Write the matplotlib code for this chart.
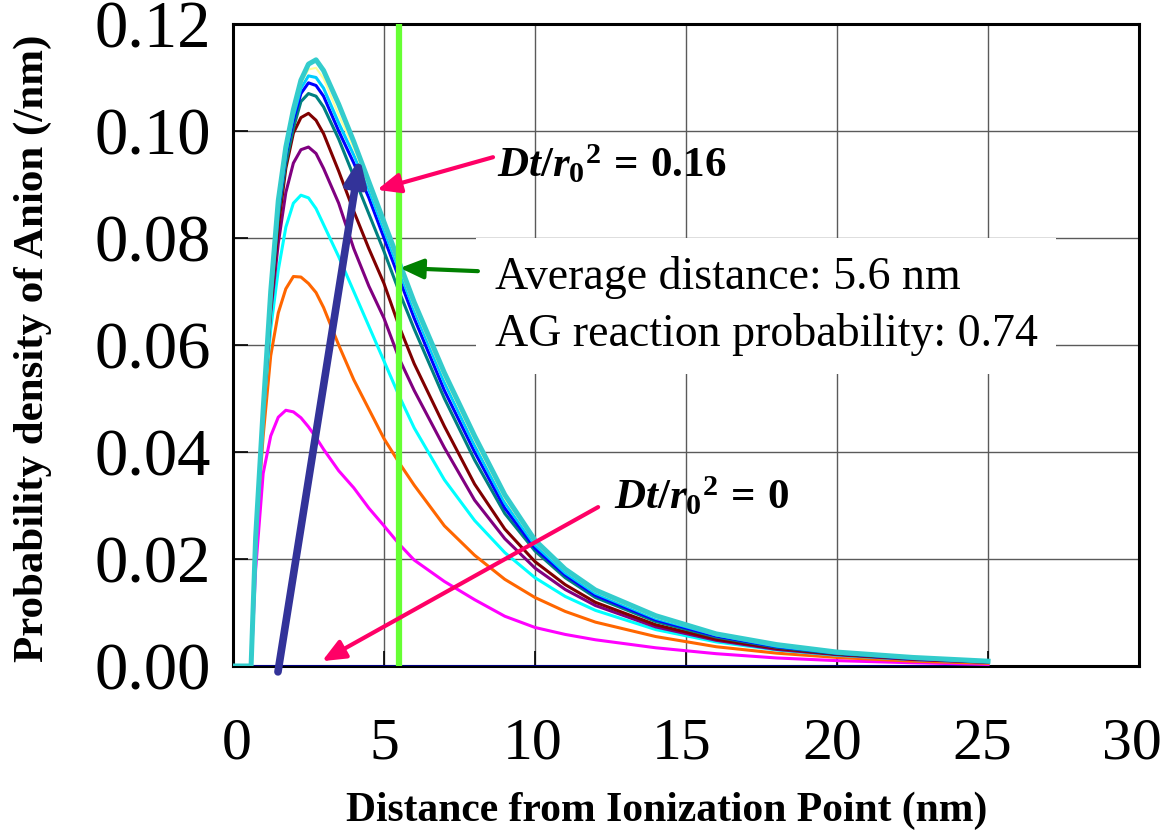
import matplotlib
matplotlib.use("Agg")
import matplotlib.pyplot as plt
import matplotlib.transforms as mtransforms
from matplotlib.ticker import MultipleLocator, FormatStrFormatter

plt.rcParams['font.family'] = ['Liberation Serif', 'DejaVu Serif']
plt.rcParams['mathtext.fontset'] = 'custom'
plt.rcParams['mathtext.rm'] = 'Liberation Serif:bold'
plt.rcParams['mathtext.it'] = 'Liberation Serif:italic:bold'
plt.rcParams['mathtext.bf'] = 'Liberation Serif:bold'

# distance from ionization point (nm)
distance = [0, 0.6, 0.75, 1.0, 1.25, 1.5, 1.75, 2.0, 2.25, 2.5, 2.75, 3.0, 3.5, 4.0,
            4.5, 5.0, 5.5, 6.0, 7.0, 8.0, 9.0, 10, 11, 12, 14, 16, 18, 20, 22.5, 25]

# probability density of anion (/nm), one list per Dt/r0^2 step
dens_magenta = [0, 0, 0.018, 0.036, 0.043, 0.0465, 0.0478, 0.0475, 0.0464, 0.0447, 0.0427,
                0.0405, 0.0365, 0.0333, 0.0295, 0.0262, 0.0228, 0.0198, 0.0158, 0.0124,
                0.0093, 0.0072, 0.0059, 0.0049, 0.0034, 0.0023, 0.0015, 0.0010, 0.0006, 0.0003]
dens_orange = [0, 0, 0.024, 0.043, 0.058, 0.066, 0.0705, 0.0728, 0.0727, 0.0715, 0.0698,
               0.067, 0.060, 0.0535, 0.048, 0.0425, 0.038, 0.0338, 0.0262, 0.0207,
               0.0162, 0.0128, 0.0102, 0.0082, 0.0055, 0.0036, 0.0024, 0.0016, 0.0009, 0.0005]
dens_cyan = [0, 0, 0.024, 0.047, 0.063, 0.074, 0.082, 0.0865, 0.088, 0.0875, 0.0855,
             0.0825, 0.0765, 0.070, 0.0635, 0.057, 0.0505, 0.0445, 0.0348, 0.0272,
             0.0212, 0.0165, 0.0130, 0.0104, 0.0068, 0.0045, 0.0030, 0.0020, 0.0012, 0.0007]
dens_purple = [0, 0, 0.024, 0.047, 0.066, 0.079, 0.0885, 0.094, 0.0965, 0.097, 0.0958,
               0.093, 0.0865, 0.078, 0.071, 0.065, 0.0575, 0.0515, 0.0408, 0.031,
               0.0238, 0.0183, 0.0143, 0.0113, 0.0073, 0.0048, 0.0031, 0.0021, 0.0012, 0.0007]
dens_maroon = [0, 0, 0.024, 0.048, 0.067, 0.082, 0.093, 0.0996, 0.1025, 0.1033, 0.102,
               0.0995, 0.0925, 0.085, 0.078, 0.0715, 0.0635, 0.0565, 0.0448, 0.034,
               0.0256, 0.0195, 0.0152, 0.0119, 0.0077, 0.0050, 0.0033, 0.0022, 0.0013, 0.0007]
dens_teal = [0, 0, 0.024, 0.048, 0.068, 0.084, 0.094, 0.1005, 0.1055, 0.107, 0.1065,
             0.1045, 0.0985, 0.0915, 0.0845, 0.0775, 0.070, 0.063, 0.050, 0.0385,
             0.0285, 0.0215, 0.0165, 0.0128, 0.0083, 0.0054, 0.0035, 0.0023, 0.0014, 0.0008]
dens_blue = [0, 0, 0.024, 0.048, 0.069, 0.085, 0.0955, 0.102, 0.107, 0.109, 0.1085,
             0.1065, 0.100, 0.094, 0.0875, 0.080, 0.0725, 0.065, 0.0515, 0.040,
             0.0295, 0.022, 0.0170, 0.0132, 0.0086, 0.0056, 0.0036, 0.0024, 0.0014, 0.0008]
dens_sky = [0, 0, 0.024, 0.048, 0.069, 0.0855, 0.096, 0.1028, 0.108, 0.1103, 0.110,
            0.108, 0.1015, 0.0955, 0.089, 0.0815, 0.074, 0.0665, 0.053, 0.0412,
            0.0305, 0.0226, 0.0174, 0.0136, 0.0089, 0.0058, 0.0037, 0.0024, 0.0015, 0.0008]
dens_yellow = [0, 0, 0.024, 0.048, 0.0695, 0.086, 0.0965, 0.1033, 0.1088, 0.1115, 0.1118,
               0.1098, 0.103, 0.0968, 0.0898, 0.0823, 0.0748, 0.0672, 0.054, 0.0422,
               0.0313, 0.0231, 0.0178, 0.0139, 0.0091, 0.0059, 0.0038, 0.0025, 0.0015, 0.0009]
dens_turq = [0, 0, 0.024, 0.048, 0.070, 0.087, 0.097, 0.104, 0.1095, 0.1125, 0.1133,
             0.1113, 0.105, 0.098, 0.0905, 0.083, 0.0755, 0.068, 0.0548, 0.043,
             0.032, 0.0235, 0.0181, 0.0142, 0.0094, 0.0060, 0.0040, 0.0026, 0.0016, 0.0009]

# Dt/r0^2 = 0 : nothing has moved yet
dist_zero = [0, 25]
dens_zero = [0, 0]

avg_distance = 5.5

fig = plt.figure(figsize=(11.66, 8.30), dpi=100)
ax = fig.add_axes([0.1998, 0.1976, 0.7771, 0.7735])

# series, drawn bottom to top like the original sheet
ax.plot(dist_zero, dens_zero, color='#000080', lw=2.2, zorder=3)
series = [
    (dens_magenta, '#FF00FF', 2.2),
    (dens_orange, '#FF6600', 2.2),
    (dens_cyan, '#00FFFF', 2.2),
    (dens_purple, '#800080', 2.2),
    (dens_maroon, '#800000', 2.2),
    (dens_teal, '#008080', 2.2),
    (dens_blue, '#0000FF', 2.2),
    (dens_sky, '#00CCFF', 2.2),
    (dens_yellow, '#FFFF99', 1.5),
    (dens_turq, '#33CCCC', 3.6),
]
for dens, col, lw in series:
    ax.plot(distance, dens, color=col, lw=lw, zorder=4)

# average distance marker
ax.axvline(avg_distance, color='#66FF33', lw=4.5, zorder=5)

ax.set_xlim(0, 30)
ax.set_ylim(0, 0.12)
ax.xaxis.set_major_locator(MultipleLocator(5))
ax.yaxis.set_major_locator(MultipleLocator(0.02))
ax.yaxis.set_major_formatter(FormatStrFormatter('%.2f'))
ax.grid(color='#5a5a5a', lw=1.0, zorder=1)
ax.set_axisbelow(True)
ax.tick_params(direction='in', length=11, width=1.2)
ax.tick_params(axis='x', pad=37, labelsize=43)
ax.tick_params(axis='y', pad=16, labelsize=48)
for sp in ax.spines.values():
    sp.set_linewidth(2.2)

ax.set_xlabel('Distance from Ionization Point (nm)', fontsize=30, fontweight='bold')
ax.set_ylabel('Probability density of Anion (/nm)', fontsize=31, fontweight='bold')
ax.xaxis.set_label_coords(0.479, -0.196)
ax.yaxis.set_label_coords(-0.20, 0.495)

# annotations
ax.annotate('', xy=(4.2, 0.095), xytext=(1.49, -0.0011),
            arrowprops=dict(arrowstyle='-|>,head_length=0.6,head_width=0.25',
                            color='#333399', lw=5.5, mutation_scale=24,
                            shrinkA=0, shrinkB=0), zorder=7, annotation_clip=False)
ax.annotate('', xy=(4.77, 0.089), xytext=(8.61, 0.0951),
            arrowprops=dict(arrowstyle='-|>,head_length=0.7,head_width=0.3',
                            color='#FF0066', lw=3, mutation_scale=20,
                            shrinkA=0, shrinkB=0), zorder=7)
ax.annotate('', xy=(2.95, 0.0009), xytext=(12.09, 0.0297),
            arrowprops=dict(arrowstyle='-|>,head_length=0.7,head_width=0.3',
                            color='#FF0066', lw=3, mutation_scale=20,
                            shrinkA=0, shrinkB=0), zorder=7)
ax.annotate('', xy=(5.53, 0.0744), xytext=(8.11, 0.0738),
            arrowprops=dict(arrowstyle='-|>,head_length=0.7,head_width=0.3',
                            color='#008000', lw=3, mutation_scale=20,
                            shrinkA=0, shrinkB=0), zorder=7)

ax.text(8.74, 0.0914, r'$\mathit{Dt/r}_{\mathrm{0}}{}^{\mathrm{2}}\,\mathrm{=}\,\mathrm{0.16}$',
        fontsize=31, va='baseline', ha='left', zorder=8)
ax.text(12.6, 0.0292, r'$\mathit{Dt/r}_{\mathrm{0}}{}^{\mathrm{2}}\,\mathrm{=}\,\mathrm{0}$',
        fontsize=31, va='baseline', ha='left', zorder=8)
ax.text(8.67, 0.0673, 'Average distance: 5.6 nm\nAG reaction probability: 0.74',
        fontsize=33, va='center', ha='left', linespacing=1.4, zorder=6,
        bbox=dict(boxstyle='square,pad=0.4', facecolor='white', edgecolor='none'))

# the sheet puts the x labels a little left of their gridlines (px per tick value)
label_shift_px = {0: 4, 5: 0, 10: -2, 15: -4, 20: -5, 25: -6, 30: -7}
fig.canvas.draw()
for tick in ax.xaxis.get_major_ticks():
    dx = label_shift_px.get(int(round(tick.get_loc())), 0)
    lab = tick.label1
    lab.set_transform(lab.get_transform()
                      + mtransforms.ScaledTranslation(dx / 100, 0, fig.dpi_scale_trans))

fig.savefig('out.png', dpi=100)
